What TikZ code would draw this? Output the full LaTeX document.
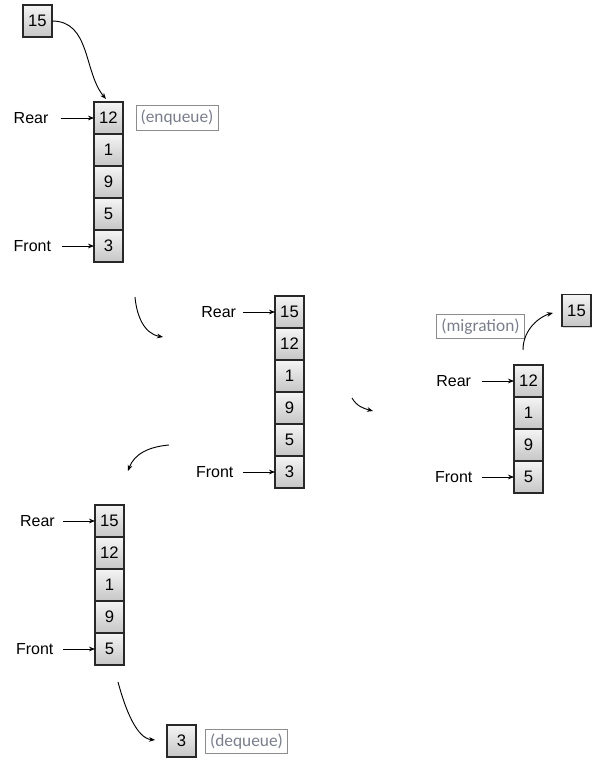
\documentclass[tikz,border=0pt]{standalone}
\usepackage{fontspec}
\setmainfont{Liberation Sans}
\newfontfamily\notefont{Carlito}
\usetikzlibrary{positioning, arrows.meta, shadows}

\definecolor{notegray}{RGB}{122,126,140}
\definecolor{cellline}{RGB}{40,40,40}

\begin{document}
\begin{tikzpicture}[
  x=0.75pt, y=0.75pt,
  node distance=0pt,
  cell/.style={rectangle, draw=cellline, line width=0.8pt,
               top color=gray!8, bottom color=gray!45,
               minimum width=21.75pt, minimum height=24pt,
               inner sep=0pt, outer sep=0pt,
               font=\fontsize{12.5}{14}\selectfont,
               drop shadow={shadow xshift=1pt, shadow yshift=-1pt, opacity=.35}},
  ptr/.style={inner sep=0pt, font=\fontsize{12}{14}\selectfont},
  note/.style={rectangle, draw=gray!90, line width=0.6pt,
               minimum height=18pt, inner xsep=3.5pt, text=notegray,
               font=\notefont\fontsize{13}{15}\selectfont},
  arr/.style={-{Stealth[length=4.5pt, width=3.5pt]}, line width=0.6pt},
  ptrarr/.style={arr, shorten <=#1},
  move/.style={arr, line width=0.7pt}
]
  \useasboundingbox (0,0) rectangle (600,772);

  % step 1: enqueue 15
  \node[cell] (in1) at (37.5,751) {15};
  \node[cell] (q1a) at (108.5,654) {12};
  \node[cell, below=of q1a] (q1b) {1};
  \node[cell, below=of q1b] (q1c) {9};
  \node[cell, below=of q1c] (q1d) {5};
  \node[cell, below=of q1d] (q1e) {3};
  \node[note] (enq) at (177,654) {(enqueue)};
  \node[ptr, left=34pt of q1a] (rear1) {Rear};
  \node[ptr, left=32pt of q1e] (front1) {Front};

  % step 2: queue after enqueue
  \node[cell] (q2a) at (289.5,460) {15};
  \node[cell, below=of q2a] (q2b) {12};
  \node[cell, below=of q2b] (q2c) {1};
  \node[cell, below=of q2c] (q2d) {9};
  \node[cell, below=of q2d] (q2e) {5};
  \node[cell, below=of q2e] (q2f) {3};
  \node[ptr, left=29pt of q2a] (rear2) {Rear};
  \node[ptr, left=31pt of q2f] (front2) {Front};

  % step 3: migration of 15
  \node[cell] (q3a) at (528.5,391) {12};
  \node[cell, below=of q3a] (q3b) {1};
  \node[cell, below=of q3b] (q3c) {9};
  \node[cell, below=of q3c] (q3d) {5};
  \node[cell] (out15) at (576.5,461.5) {15};
  \node[note] (mig) at (480.5,445.5) {(migration)};
  \node[ptr, left=32pt of q3a] (rear3) {Rear};
  \node[ptr, left=31pt of q3d] (front3) {Front};

  % step 4: dequeue 3
  \node[cell] (q4a) at (109.5,251) {15};
  \node[cell, below=of q4a] (q4b) {12};
  \node[cell, below=of q4b] (q4c) {1};
  \node[cell, below=of q4c] (q4d) {9};
  \node[cell, below=of q4d] (q4e) {5};
  \node[cell] (out3) at (181.5,31) {3};
  \node[note] (deq) at (246.5,30.5) {(dequeue)};
  \node[ptr, left=30pt of q4a] (rear4) {Rear};
  \node[ptr, left=31pt of q4e] (front4) {Front};

  % free ends of the step arrows
  \coordinate (s1) at (135,475);
  \coordinate (e1) at (163,435);
  \coordinate (s2) at (169,327);
  \coordinate (e2) at (128,301);
  \coordinate (s3) at (352,374);
  \coordinate (e3) at (373,361);
  \coordinate (s4) at (523,422);
  \coordinate (s5) at (118,90);

  % pointers
  \draw[ptrarr=9pt] (rear1) -- (q1a);
  \draw[ptrarr=8pt] (front1) -- (q1e);
  \draw[ptrarr=5pt] (rear2) -- (q2a);
  \draw[ptrarr=7pt] (front2) -- (q2f);
  \draw[ptrarr=8pt] (rear3) -- (q3a);
  \draw[ptrarr=7pt] (front3) -- (q3d);
  \draw[ptrarr=6pt] (rear4) -- (q4a);
  \draw[ptrarr=7pt] (front4) -- (q4e);

  % moves
  \draw[move, shorten >=3pt] (in1.east) to[out=0, in=130] (q1a.north);
  \draw[move] (s1) to[out=-85, in=170] (e1);
  \draw[move] (s2) to[out=185, in=70] (e2);
  \draw[move] (s3) to[out=-60, in=165] (e3);
  \draw[move, shorten >=7pt] (s4) to[out=90, in=195] (out15.west);
  \draw[move, shorten >=9pt] (s5) to[out=-75, in=175] (out3.west);
\end{tikzpicture}
\end{document}
